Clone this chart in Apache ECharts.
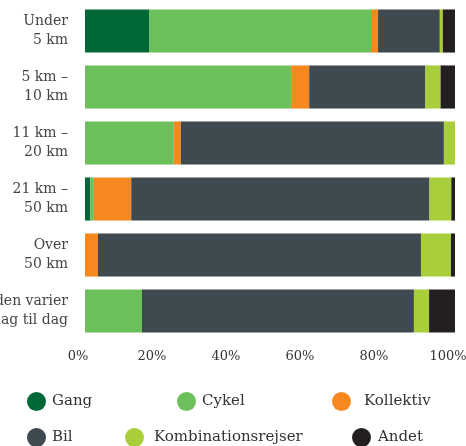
<!DOCTYPE html>
<html>
<head>
<meta charset="utf-8">
<script src="https://cdn.jsdelivr.net/npm/echarts@6/dist/echarts.min.js"></script>
<style>
  html, body { margin: 0; padding: 0; background: #fff; }
  #chart { width: 466px; height: 446px; }
</style>
</head>
<body>
<div id="chart"></div>
<script>
var categories = ['Under\n5 km', '5 km –\n10 km', '11 km –\n20 km', '21 km –\n50 km', 'Over\n50 km', 'Afstanden varier\nfra dag til dag'];
var gang = [17.3, 0, 0, 1.4, 0, 0];
var cykel = [60.0, 55.7, 24.0, 1.0, 0, 15.4];
var kollektiv = [1.9, 4.9, 1.9, 10.1, 3.5, 0];
var bil = [16.7, 31.4, 71.1, 80.6, 87.3, 73.5];
var kombination = [0.8, 4.1, 3.0, 5.9, 8.1, 4.1];
var andet = [3.3, 3.9, 0, 1.0, 1.1, 7.0];
var tickLabels = ['0%', '20%', '40%', '60%', '80%', '100%'];

var font = "'DejaVu Serif', serif";
var names = ['Gang', 'Cykel', 'Kollektiv', 'Bil', 'Kombinationsrejser', 'Andet'];
var colors = ['#006837', '#6cc05b', '#f5891f', '#3e4a50', '#a8cf3a', '#231f20'];
var values = [gang, cykel, kollektiv, bil, kombination, andet];

// legend spots (left, top, gap)
var spots = [[27, 392, 6], [177, 392, 6], [332, 392, 13], [27, 428, 6], [125, 428, 10], [352, 428, 7]];

var legends = names.map(function (n, i) {
	return {
		data: [n],
		left: spots[i][0],
		top: spots[i][1],
		padding: 0,
		icon: 'circle',
		itemWidth: 19,
		itemHeight: 19,
		itemGap: 0,
		selectedMode: false,
		textStyle: { fontFamily: font, fontSize: 15, color: '#333', padding: [0, 0, 0, spots[i][2] - 5] }
	};
});

var series = names.map(function (n, i) {
	return {
		name: n,
		type: 'bar',
		stack: 'total',
		barCategoryGap: '23%',
		itemStyle: { color: colors[i] },
		data: values[i]
	};
});

var option = {
	animation: false,
	legend: legends,
	grid: { left: 85, right: 11, top: 3, bottom: 107, containLabel: false, outerBoundsMode: 'none' },
	xAxis: {
		type: 'value',
		min: 0,
		max: 100,
		interval: 20,
		splitLine: { show: false },
		axisLine: { show: false },
		axisTick: { show: false },
		axisLabel: {
			margin: 11,
			fontFamily: font,
			fontSize: 13,
			color: '#333',
			padding: [0, 14, 0, 0],
			formatter: function (v) { return tickLabels[v / 20]; }
		}
	},
	yAxis: {
		type: 'category',
		inverse: true,
		data: categories,
		axisLine: { show: false },
		axisTick: { show: false },
		axisLabel: {
			margin: 17,
			fontFamily: font,
			fontSize: 14,
			lineHeight: 19,
			color: '#444',
			align: 'right'
		}
	},
	series: series
};

var myChart = echarts.init(document.getElementById('chart'));
myChart.setOption(option);
</script>
</body>
</html>
